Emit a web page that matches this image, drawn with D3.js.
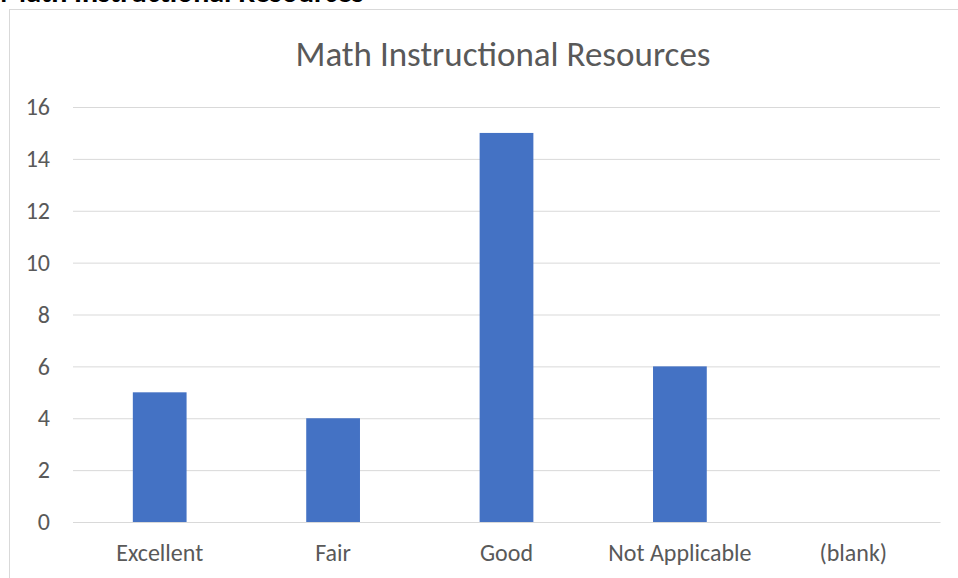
<!DOCTYPE html>
<html>
<head>
<meta charset="utf-8">
<script src="https://cdn.jsdelivr.net/npm/d3@7"></script>
<style>
  body { margin: 0; background: #fff; }
  svg { display: block; font-family: Carlito, Calibri, "Open Sans", sans-serif; }
</style>
</head>
<body>
<div id="chart"></div>
<script>
const categories = ["Excellent", "Fair", "Good", "Not Applicable", "(blank)"];
const counts = [5, 4, 15, 6, 0];
const yTicks = [0, 2, 4, 6, 8, 10, 12, 14, 16];

const W = 958, H = 578;
const margin = { top: 107, right: 18, bottom: 56, left: 73 },
  width = W - margin.left - margin.right,
  height = H - margin.top - margin.bottom;

const fontFamily = "Carlito, Calibri, 'Open Sans', sans-serif";

const svg = d3.select("#chart").append("svg")
  .attr("width", W)
  .attr("height", H);

// heading cut off by the top of the page
svg.append("text")
  .attr("x", 0)
  .attr("y", 2)
  .attr("font-family", fontFamily)
  .attr("font-weight", "bold")
  .attr("font-size", 30)
  .attr("fill", "#000")
  .text("Math Instructional Resources");

// chart frame
svg.append("rect")
  .attr("x", 9.5)
  .attr("y", 9.5)
  .attr("width", W)
  .attr("height", H)
  .attr("fill", "#fff")
  .attr("stroke", "#d9d9d9")
  .attr("stroke-width", 1);

svg.append("text")
  .attr("x", 503)
  .attr("y", 66)
  .attr("text-anchor", "middle")
  .attr("font-size", 35)
  .attr("fill", "#595959")
  .text("Math Instructional Resources");

const g = svg.append("g")
  .attr("transform", "translate(" + margin.left + "," + margin.top + ")");

const x = d3.scaleBand()
  .domain(categories)
  .range([0, width])
  .paddingInner(0.69)
  .paddingOuter(0.345);

const y = d3.scaleLinear()
  .domain([0, 16])
  .range([height, 0]);

g.append("g")
  .attr("class", "grid")
  .call(d3.axisLeft(y).tickValues(yTicks).tickSize(-width).tickFormat(""))
  .call((s) => s.select(".domain").remove())
  .call((s) => s.selectAll("line").attr("stroke", "#d9d9d9").attr("stroke-width", 1));

g.selectAll(".bar")
  .data(categories)
  .enter()
  .append("rect")
  .attr("class", "bar")
  .attr("x", (d) => x(d))
  .attr("y", (d, i) => y(counts[i]))
  .attr("width", x.bandwidth())
  .attr("height", (d, i) => height - y(counts[i]))
  .attr("fill", "#4472c4");

// y tick labels
g.append("g")
  .call(d3.axisLeft(y).tickValues(yTicks).tickSize(0).tickPadding(23))
  .call((s) => s.select(".domain").remove())
  .call((s) => s.selectAll("text")
    .attr("font-size", 24)
    .attr("font-family", fontFamily)
    .attr("fill", "#595959"));

// x tick labels
g.append("g")
  .attr("transform", "translate(0," + height + ")")
  .call(d3.axisBottom(x).tickSize(0).tickPadding(22))
  .call((s) => s.select(".domain").attr("stroke", "#d9d9d9"))
  .call((s) => s.selectAll("text")
    .attr("font-size", 24)
    .attr("font-family", fontFamily)
    .attr("fill", "#595959"));
</script>
</body>
</html>
